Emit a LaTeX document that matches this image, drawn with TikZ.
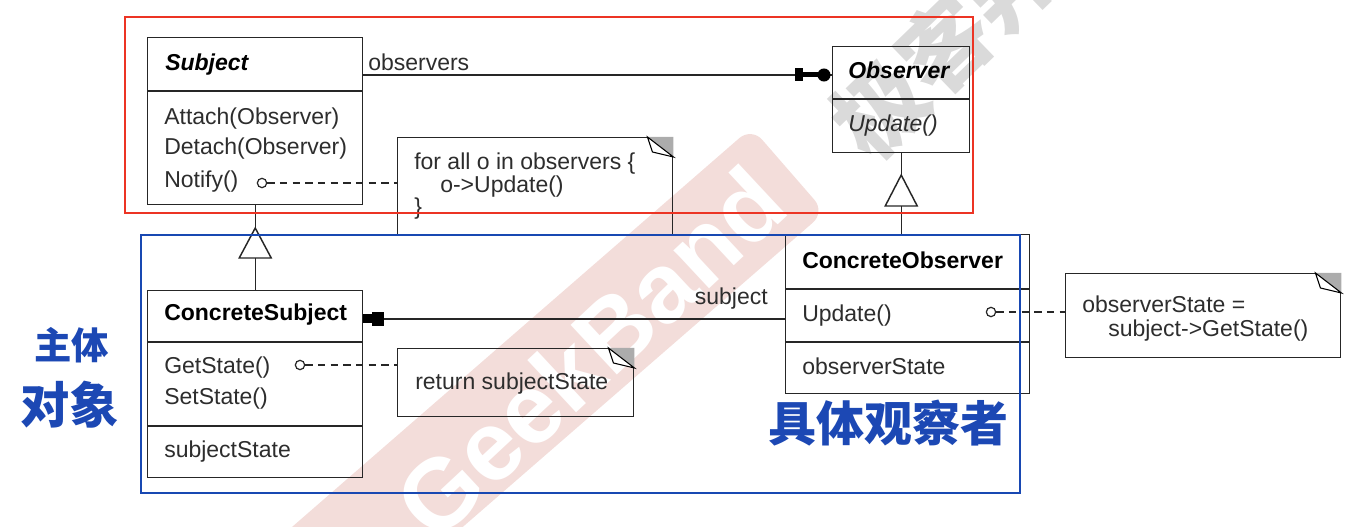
\documentclass[tikz,border=0pt]{standalone}
\usepackage{fontspec}
\setmainfont{Liberation Sans}
\newfontfamily\cjk{Noto Sans CJK SC}
\usetikzlibrary{calc}
\definecolor{redframe}{RGB}{236,52,36}
\definecolor{blueframe}{RGB}{24,72,178}
\definecolor{hand}{RGB}{28,72,180}
\definecolor{bandpink}{RGB}{243,221,218}
\definecolor{wmgrey}{RGB}{218,218,218}
\definecolor{txt}{RGB}{45,45,45}
\newcommand\umlfont{\fontsize{17.25}{23}\selectfont}
\newcommand\notefold[1]{%
  \fill[gray!65] ($(#1.north east)+(-26,0)$) -- (#1.north east) -- ($(#1.north east)+(0,20)$) -- cycle;
  \draw[line width=0.8pt, fill=white] ($(#1.north east)+(-26,0)$) -- ($(#1.north east)+(-21,15)$) -- ($(#1.north east)+(0,20)$) -- cycle;}
\begin{document}
\begin{tikzpicture}[x=0.75pt,y=-0.75pt,
  box/.style={draw=black!85, line width=1.1pt, inner sep=0, anchor=north west},
  lbl/.style={anchor=base west, inner sep=0, font=\umlfont, text=txt},
  cname/.style={anchor=base west, inner sep=0, font=\umlfont\bfseries, text=black},
  div/.style={draw=black!85, line width=1.1pt},
  conn/.style={draw=black!85, line width=1.1pt},
  dep/.style={draw=black!85, line width=1.1pt, dash pattern=on 5.5pt off 4pt},
  hole/.style={draw=black!85, line width=0.9pt, fill=white, circle, inner sep=0, minimum size=7pt},
  frame/.style={line width=2.2pt},
  handtxt/.style={text=hand, inner sep=0}]
\useasboundingbox (0,0) rectangle (1365,527);

% ---------- watermark ----------
\node[rotate=41, fill=bandpink, rounded corners=12pt, minimum width=650*0.75pt,
      minimum height=112*0.75pt, inner sep=0] (band) at (543,383) {};
\node[rotate=43, text=white, font=\fontsize{74}{74}\selectfont\bfseries, inner sep=0] (gb) at (590,352) {GeekBand};
\node[rotate=44, text=wmgrey, font=\cjk\fontsize{68}{68}\selectfont\bfseries, inner sep=0] (jk) at (945,45) {极客邦};

% ---------- Subject ----------
\node[box, minimum width=215*0.75pt, minimum height=167*0.75pt] (subj) at (147,37) {};
\draw[div] (147,91) -- (362,91);
\node[cname, font=\umlfont\bfseries\itshape] (subjn) at (165,71) {Subject};
\node[lbl] (att) at (164,125) {Attach(Observer)};
\node[lbl] (det) at (164,155) {Detach(Observer)};
\node[lbl] (ntf) at (164,188) {Notify()};

% ---------- Observer ----------
\node[box, minimum width=137*0.75pt, minimum height=106*0.75pt] (obs) at (832,46) {};
\draw[div] (832,99) -- (969,99);
\node[cname, font=\umlfont\bfseries\itshape] (obsn) at (848,79) {Observer};
\node[lbl, font=\umlfont\itshape] (obsu) at (848,132) {Update()};

% ---------- ConcreteSubject ----------
\node[box, minimum width=215*0.75pt, minimum height=187*0.75pt] (csub) at (147,290) {};
\draw[div] (147,342) -- (362,342);
\draw[div] (147,426) -- (362,426);
\node[cname] (csubn) at (164,321) {ConcreteSubject};
\node[lbl] (gs) at (164,374) {GetState()};
\node[lbl] (ss) at (164,405) {SetState()};
\node[lbl] (sst) at (164,458) {subjectState};

% ---------- ConcreteObserver ----------
\node[box, minimum width=244*0.75pt, minimum height=159*0.75pt] (cobs) at (785,234) {};
\draw[div] (785,289) -- (1029,289);
\draw[div] (785,342) -- (1029,342);
\node[cname] (cobsn) at (802,269) {ConcreteObserver};
\node[lbl] (cou) at (802,322) {Update()};
\node[lbl] (cos) at (802,375) {observerState};

% ---------- notes ----------
\node[box, minimum width=275*0.75pt, minimum height=98*0.75pt] (note1) at (397,137) {};
\notefold{note1}
\node[lbl] (n1a) at (414,170) {for all o in observers \{};
\node[lbl] (n1b) at (440,193) {o-{}>Update()};
\node[lbl] (n1c) at (414,215) {\}};

\node[box, minimum width=236*0.75pt, minimum height=68*0.75pt] (note2) at (397,348) {};
\notefold{note2}
\node[lbl] (n2a) at (415,390) {return subjectState};

\node[box, minimum width=275*0.75pt, minimum height=84*0.75pt] (note3) at (1065,273) {};
\notefold{note3}
\node[lbl] (n3a) at (1082,313) {observerState =};
\node[lbl] (n3b) at (1108,337) {subject-{}>GetState()};

% ---------- observers association ----------
\coordinate (y75) at (0,75);
\coordinate (y319) at (0,319);
\draw[conn] (subj.east |- y75) -- (obs.west |- y75);
\coordinate (e1) at (obs.west |- y75);
\fill[black] ($(e1)+(-37,-6.5)$) rectangle ($(e1)+(-29,6.5)$);
\fill[black] ($(e1)+(-29,-2.5)$) rectangle ($(e1)+(-14,2.5)$);
\fill[black] ($(e1)+(-8,0)$) circle[radius=4.9pt];
\node[lbl] (obsl) at (368,71) {observers};

% ---------- subject association ----------
\draw[conn] (cobs.west |- y319) -- (csub.east |- y319);
\coordinate (e2) at (csub.east |- y319);
\fill[black] ($(e2)+(0,-4.5)$) rectangle ($(e2)+(10,4.5)$);
\fill[black] ($(e2)+(9,-7)$) rectangle ($(e2)+(21,7)$);
\node[anchor=base east, inner sep=0, font=\umlfont, text=txt] (subjl) at (768,305) {subject};

% ---------- generalizations ----------
\coordinate (t1) at (subj.south |- 0,228);
\draw[conn] (subj.south) -- (t1);
\draw[conn] ($(t1)+(0,30)$) -- (subj.south |- csub.north);
\draw[conn, line join=miter] (t1) -- ++(-16,30) -- ++(32,0) -- cycle;

\coordinate (t2) at (obs.south |- 0,175);
\draw[conn] (obs.south) -- (t2);
\draw[conn] ($(t2)+(0,31)$) -- (obs.south |- cobs.north);
\draw[conn, line join=miter] (t2) -- ++(-16,31) -- ++(32,0) -- cycle;

% ---------- dependencies ----------
\node[hole] (c1) at (262,183) {};
\draw[dep] (c1.east) -- (c1.east -| note1.west);
\node[hole] (c2) at (300,365) {};
\draw[dep] (c2.east) -- (c2.east -| note2.west);
\node[hole] (c3) at (991,312) {};
\draw[dep] (c3.east) -- (c3.east -| note3.west);

% ---------- highlight frames ----------
\draw[frame, redframe] (125,17) rectangle (973,213);
\draw[frame, blueframe] (141,235) rectangle (1020,493);

% ---------- handwritten labels ----------
\node[handtxt, font=\cjk\fontsize{28}{28}\selectfont\bfseries] (zt) at (72,345) {主体};
\node[handtxt, font=\cjk\fontsize{37}{37}\selectfont\bfseries] (dx) at (70,405) {对象};
\node[handtxt, font=\cjk\fontsize{36}{36}\selectfont\bfseries] (jt) at (888,423) {具体观察者};
\end{tikzpicture}
\end{document}
